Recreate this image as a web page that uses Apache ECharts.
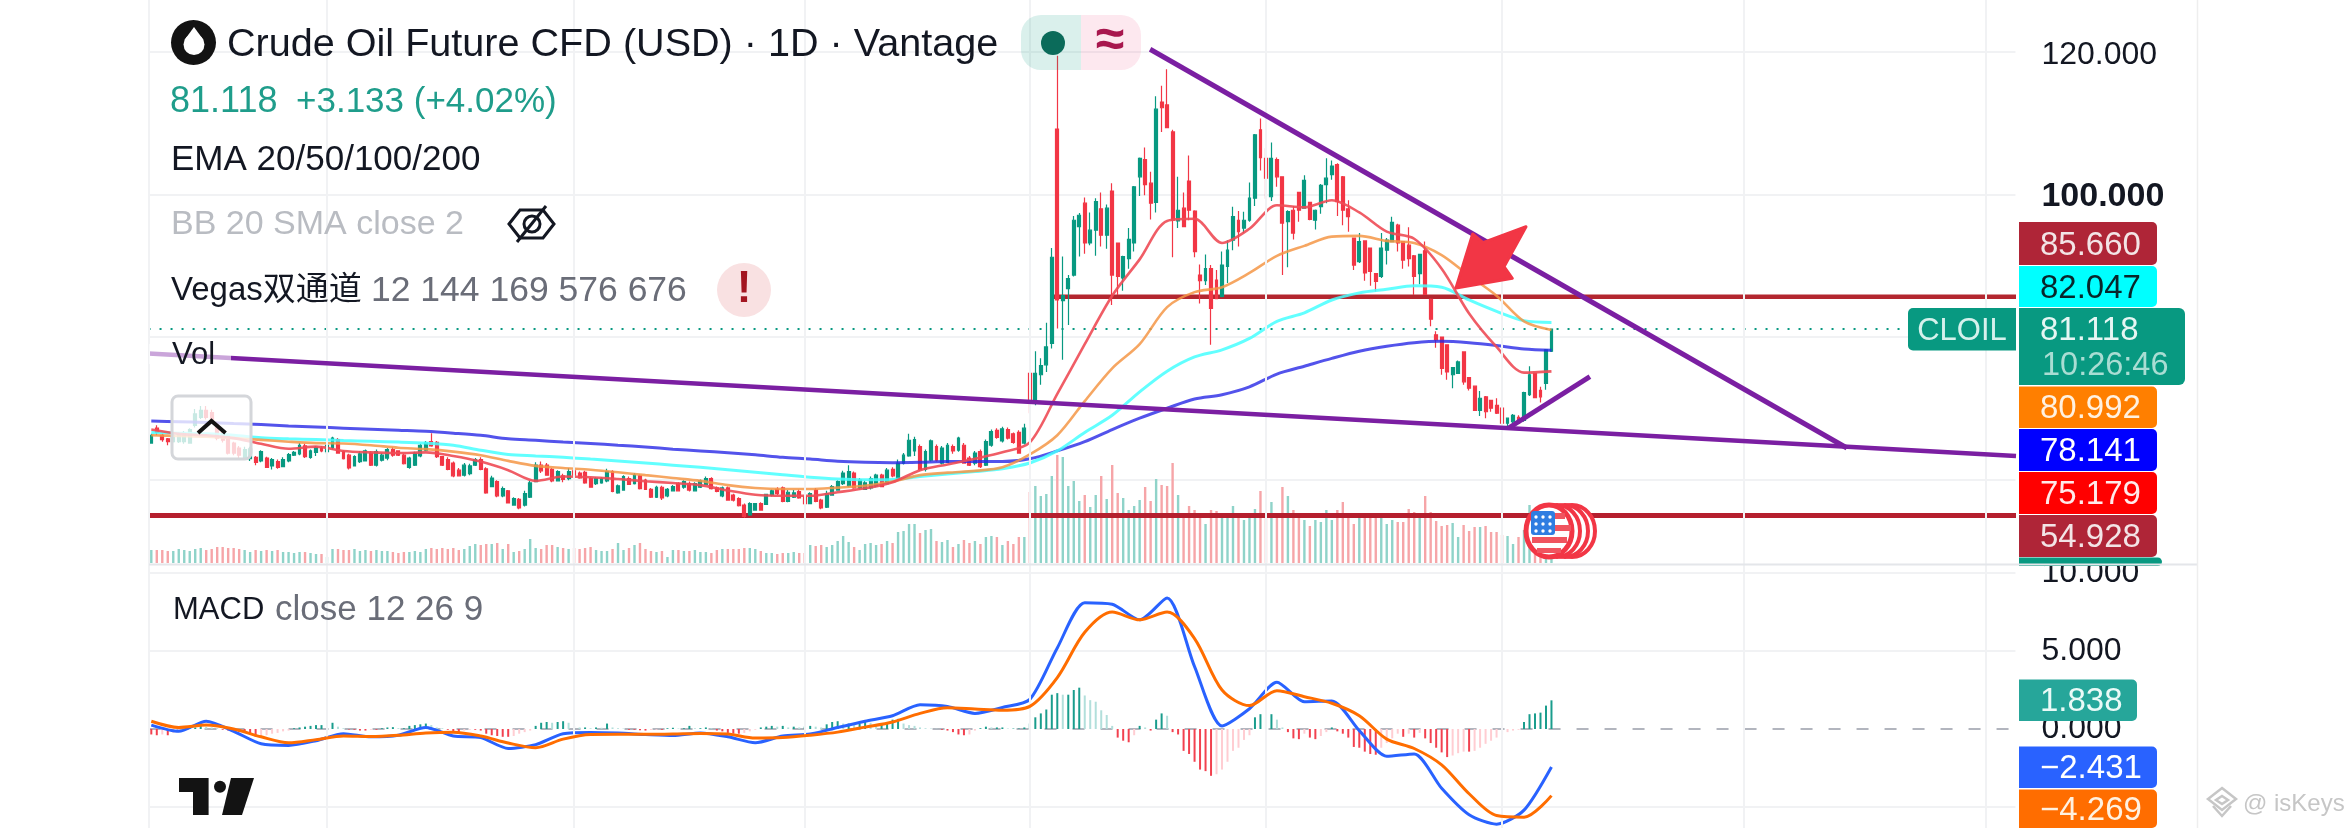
<!DOCTYPE html>
<html><head><meta charset="utf-8">
<style>html,body{margin:0;padding:0;background:#fff}#c{width:2346px;height:828px}</style>
<script src="https://cdn.jsdelivr.net/npm/echarts@6/dist/echarts.min.js"></script>
</head><body><div id="c"></div><script>
// [open, close, low, high] for every daily bar
const candles = [
[65.1,66.2,65.0,66.4],[67.2,66.6,66.2,67.6],[66.2,65.6,65.3,66.4],[65.7,65.3,64.8,65.8],[65.3,66.2,65.2,66.4],[65.3,66.4,65.1,66.6],[65.3,66.5,65.0,66.8],[65.1,67.0,65.0,67.2],[67.6,69.2,67.3,69.9],[68.7,69.7,68.5,70.3],
[69.7,68.7,68.4,70.3],[69.4,68.4,68.1,69.8],[67.9,65.8,65.5,68.1],[66.7,65.5,65.2,67.0],[66.1,63.7,63.5,66.3],[65.1,63.7,63.4,65.3],[64.4,63.4,63.0,64.7],[63.0,64.2,62.8,64.6],[62.9,64.3,62.6,64.6],[63.1,62.4,62.0,63.3],
[62.6,63.9,62.4,64.1],[63.0,61.7,61.6,63.2],[61.9,62.8,61.4,63.0],[62.5,61.7,61.5,62.8],[61.8,62.8,61.7,63.1],[62.6,63.5,62.4,63.7],[63.4,63.8,63.3,64.0],[63.6,64.8,63.4,65.1],[64.7,63.2,63.0,65.0],[63.1,64.0,62.9,64.2],
[63.8,64.5,63.3,64.7],[64.4,64.0,63.8,64.7],[63.9,64.8,63.6,65.0],[64.5,65.8,64.2,66.0],[65.6,63.7,63.6,65.8],[63.9,62.9,62.8,64.1],[63.4,61.6,61.4,63.6],[61.9,63.2,61.8,63.4],[62.5,63.6,62.3,64.0],[62.6,64.0,62.5,64.2],
[63.7,62.0,61.9,64.0],[62.0,63.9,61.8,64.2],[62.7,63.4,62.5,63.7],[63.0,64.2,62.7,64.4],[64.2,63.4,63.2,64.5],[64.0,63.4,63.3,64.1],[63.4,62.2,62.1,63.6],[61.7,63.0,61.5,63.2],[62.0,63.7,61.9,63.9],[63.3,64.8,63.1,65.0],
[64.1,65.1,64.0,65.4],[65.3,64.7,64.6,66.5],[65.2,63.2,63.0,65.4],[63.2,62.0,61.9,63.3],[62.8,61.4,61.3,63.1],[62.3,60.5,60.3,62.5],[61.3,60.5,60.4,61.6],[60.6,62.0,60.4,62.3],[60.8,61.9,60.6,62.2],[62.0,62.8,61.9,63.0],
[62.8,61.4,61.3,63.1],[61.5,58.1,58.0,61.7],[59.0,60.2,58.9,60.5],[59.7,57.7,57.5,59.9],[57.7,58.7,57.5,59.0],[58.4,56.7,56.6,58.5],[56.4,57.3,56.3,57.5],[57.2,56.0,55.8,57.4],[56.4,58.0,56.2,58.4],[57.5,59.5,57.4,59.8],
[59.7,62.0,59.6,62.4],[62.0,61.2,60.9,62.5],[62.0,60.6,60.5,62.3],[61.4,59.8,59.6,61.6],[59.8,61.1,59.7,61.3],
[60.5,60.0,59.6,60.8],[60.1,61.1,59.9,61.6],[61.2,60.6,60.3,61.5],[60.9,60.2,60.1,61.1],[61.0,59.5,59.4,61.2],[60.1,58.9,58.9,60.3],[59.4,60.1,59.2,60.3],[59.5,60.1,59.4,60.3],[59.8,61.1,59.6,61.5],[61.1,58.3,58.2,61.3],
[58.1,59.1,58.0,59.3],[58.5,60.4,58.4,60.6],[60.1,59.3,59.2,60.4],[59.4,60.6,59.3,60.9],[60.5,58.7,58.6,60.7],[59.9,58.6,58.5,60.1],[58.6,57.5,57.4,58.8],[57.5,58.9,57.4,59.1],[58.9,57.4,57.1,59.1],[57.7,58.6,57.5,58.8],
[58.4,59.0,58.3,59.2],[59.4,58.4,58.3,59.6],[58.9,59.7,58.7,59.9],[59.4,58.5,58.3,59.7],[58.4,59.4,58.3,59.6],[58.9,59.8,58.8,60.0],[59.3,60.1,59.2,60.4],[60.1,58.7,58.6,60.3],[58.8,58.3,58.2,59.0],[57.7,58.8,57.5,59.0],
[58.8,57.1,57.0,59.0],[57.8,57.1,56.9,58.0],[57.3,56.3,56.2,57.5],[56.4,54.8,54.6,56.6],[55.0,56.6,54.9,56.8],[55.7,56.6,55.6,56.7],[56.6,55.7,55.6,56.8],[56.5,57.9,56.4,58.0],[57.8,58.4,57.6,58.6],[58.6,58.0,57.8,58.9],
[58.8,56.9,56.8,59.0],[56.9,58.2,56.8,58.5],[57.5,58.1,57.4,58.5],[58.3,57.4,57.3,58.6],[57.6,56.6,56.4,57.8],[56.6,58.0,56.5,58.2],[58.5,56.9,56.8,58.8],[57.1,56.0,55.8,57.3],[56.1,58.0,56.0,58.4],[57.8,59.0,57.7,59.2],
[58.5,59.7,58.4,59.9],[59.4,60.9,59.2,61.2],[59.1,61.1,58.9,62.0],[60.9,58.8,58.7,61.1],[58.8,59.9,58.6,60.2],[58.6,59.5,58.5,59.8],[58.8,60.1,58.6,60.4],[59.1,60.6,58.9,60.8],[60.6,59.0,58.9,60.8],[59.4,61.3,59.3,61.6],
[61.4,60.5,60.3,61.7],[60.1,62.3,59.9,62.8],[62.3,63.4,62.1,63.7],[63.3,65.5,63.2,66.4],[64.0,65.6,63.3,66.0],[64.6,61.4,61.2,64.9],[61.4,63.9,61.1,64.2],[62.7,65.4,62.5,65.6],[64.6,62.7,62.5,64.9],[62.3,64.4,62.1,64.7],
[62.4,64.8,62.3,65.1],[64.6,64.0,63.6,64.9],[64.1,65.8,63.9,66.0],[64.8,62.3,62.2,65.1],[63.0,62.0,61.9,63.3],[62.3,63.7,62.0,64.0],[63.9,61.8,61.6,64.2],[62.0,65.3,61.9,65.6],[64.8,66.7,64.6,67.0],[66.9,65.9,65.7,67.2],
[65.4,67.1,65.2,67.4],[67.0,65.8,65.6,67.3],[66.4,65.2,65.0,66.6],[66.6,63.7,63.6,66.9],[65.1,67.2,64.9,67.8],
[74.9,70.9,69.3,75.0],[70.7,74.9,70.4,78.0],[74.7,76.0,73.3,77.0],[76.1,78.6,75.1,82.0],[79.1,91.2,78.4,92.5],[109.2,85.2,81.2,119.5],[85.1,85.8,76.8,91.3],[86.8,88.2,81.7,88.7],[88.7,96.4,88.5,97.0],[95.5,97.1,91.3,97.4],
[98.8,93.2,91.7,99.6],[93.2,95.0,92.9,97.5],[95.0,99.0,91.4,99.5],[98.0,94.3,92.7,100.3],[94.3,98.1,92.4,98.6],[100.5,88.7,84.5,101.6],[93.2,88.5,85.9,93.2],[88.3,91.3,86.5,91.4],[91.0,93.7,89.6,95.3],[93.2,101.1,92.0,101.2],
[102.5,105.1,99.8,105.2],[104.9,101.4,99.9,106.6],[101.6,98.8,96.5,103.2],[98.9,112.0,97.5,113.8],[113.0,112.2,108.8,115.3],[112.6,109.4,109.4,117.6],[108.8,96.4,91.2,109.1],[96.3,97.8,95.3,102.5],[98.1,95.5,95.4,100.3],[101.9,97.8,96.4,105.5],
[97.7,92.0,91.2,97.8],[88.7,87.9,84.7,90.2],[87.9,89.6,87.3,91.6],[89.6,84.0,78.9,90.1],[88.0,85.4,85.4,89.4],[85.7,90.1,85.6,92.0],[89.9,92.2,87.6,93.6],[93.6,96.9,92.2,98.3],[96.4,94.8,92.7,97.7],[95.3,96.4,94.6,97.6],
[96.4,99.5,96.2,101.7],[99.5,108.4,98.4,108.5],[109.1,105.2,103.4,110.7],[105.1,102.3,99.4,106.5],[99.7,105.1,99.1,107.3],[104.9,102.5,101.1,105.2],[102.5,96.0,88.7,102.5],[96.2,97.6,89.8,97.8],[97.8,94.6,93.7,98.4],
[100.3,97.8,96.2,100.3],[98.1,102.0,98.0,102.7],[98.9,96.5,96.4,99.0],[96.4,97.8,95.1,97.9],[98.3,101.3,97.3,101.5],[101.4,102.3,98.8,105.1],[102.8,104.0,102.1,104.8],[104.2,99.0,97.0,104.4],[102.5,97.8,95.7,102.6],[98.0,96.9,94.8,99.2],
[93.9,90.1,89.4,93.9],[90.6,93.4,90.4,94.6],[93.5,89.0,87.9,93.5],[92.5,89.2,87.2,92.5],[88.9,87.8,86.4,88.9],[88.5,92.5,88.3,94.6],[92.2,93.6,90.2,93.9],[93.4,96.1,93.4,96.9],[95.7,93.2,92.0,95.9],[93.4,90.8,89.6,93.5],
[92.9,91.0,89.9,95.4],[91.4,88.5,85.9,91.5],[88.9,91.6,87.4,91.6],[92.1,86.0,85.9,93.4],[85.3,82.5,81.5,85.4],[80.3,79.6,78.5,80.8],[80.0,75.6,74.7,80.0],[78.9,75.1,74.0,79.0],[74.7,75.7,72.8,75.8],[74.9,76.5,74.8,76.7],
[77.9,73.7,73.3,78.0],[74.3,72.8,72.5,74.4],[73.1,69.7,69.6,73.1],[69.7,71.4,68.9,72.4],[71.6,69.5,68.6,71.7],[71.1,70.0,69.5,71.2],[70.4,69.3,69.2,71.4],[70.0,67.9,67.8,70.1],[67.9,68.6,67.0,68.7],[68.1,69.0,67.6,69.2],
[68.7,67.9,67.8,69.0],[68.3,72.2,68.1,72.3],[71.9,74.7,71.7,75.9],[74.9,71.5,71.4,75.0],[72.5,71.6,70.8,73.0],[73.5,78.2,72.6,78.3],[78.0,81.118,77.9,81.2]
];
const volumes = [
13,13,13,12,12,14,13,12,14,15,13,14,16,16,15,15,14,13,11,13,12,13,12,13,11,11,10,11,11,10,9,9,6,
14,14,13,13,14,12,13,12,13,12,12,11,10,11,11,12,11,14,15,14,15,14,15,13,14,17,19,18,19,
19,20,14,19,11,12,14,24,15,14,18,18,16,15,14,15,14,15,16,13,12,12,14,20,13,15,18,20,14,12,11,12,6,13,13,12,12,13,11,11,
10,13,14,14,14,14,15,15,14,12,10,10,9,10,10,11,10,10,
18,17,18,16,18,22,27,21,16,13,19,20,18,19,22,20,31,
32,39,39,30,33,34,22,21,23,16,19,23,20,22,19,26,27,26,
18,22,19,26,26,71,77,67,69,87,108,106,77,82,62,68,56,68,87,64,98,70,65,53,57,63,76,62,84,78,77,100,68,47,57,53,50,39,53,52,50,48,57,48,43,48,54,72,48,61,50,76,67,53,48,43,37,43,41,53,43,53,61,48,39,45,48,45,45,48,39,43,41,41,54,51,49,67,51,42,37,38,40,26,38,32,36,36,37,31,31,28,27,19,26,33,58,
30,25,25,20];
const emaBars = [0,5,10,15,20,25,30,35,40,45,50,55,60,65,70,75,80,85,90,95,100,105,110,115,120,125,130,135,140,145,150,155,160,165,170,175,180,185,190,195,200,205,210,215,220,225,230,235,240,245,250,255];
const ema20 = [67.0,66.4,66.2,65.8,65.0,64.3,64.6,64.0,63.8,63.7,63.8,63.3,62.5,61.3,59.8,60.4,60.3,60.05,59.75,59.5,59.2,58.45,57.85,57.7,57.7,58.2,58.75,59.6,61.3,62.1,62.9,63.8,65.2,72,79,85.8,90.9,96.3,96.6,93.2,95.2,98.5,98.2,99.2,97.5,94.8,93.8,89.6,83.3,78.6,75,75.179];
const ema50 = [66.2,66.1,66.0,65.8,65.55,65.3,65.1,65.05,64.8,64.45,64.25,63.9,63.4,62.6,61.9,61.6,61.35,61.0,60.6,60.2,59.8,59.2,58.8,58.65,58.65,58.85,59.1,59.7,60.6,60.95,61.2,61.7,63.5,66.2,71.0,75.6,79.0,84.2,86.3,87.0,89.0,91.4,92.8,94.1,94.2,93.5,93.2,91.5,88.6,85.8,82.2,80.992];
const ema100 = [66.6,66.5,66.4,66.2,65.85,65.7,65.6,65.45,65.35,65.25,65.1,64.8,64.1,63.5,63.3,63.1,62.85,62.6,62.3,62.0,61.7,61.35,61.0,60.65,60.3,60.05,59.95,60.0,60.4,60.75,61.1,61.5,62.3,64.0,66.6,69.0,72.3,75.2,77.2,78.2,79.8,82.2,83.4,85.2,86.2,86.7,87.2,87.0,85.2,83.6,82.3,82.047];
const ema200 = [68.2,68.1,68.0,67.85,67.7,67.5,67.35,67.2,67.05,66.9,66.75,66.5,66.2,65.7,65.5,65.25,65.05,64.8,64.55,64.25,64.0,63.75,63.45,63.1,62.85,62.55,62.4,62.35,62.4,62.5,62.5,62.5,62.9,64.0,65.3,67.0,68.6,70.0,71.3,71.9,73.0,74.8,75.9,77.0,78.0,78.7,79.2,79.4,79.2,78.8,78.3,78.141];
const macdLine = [.25,-.15,.5,-.15,-.95,-1.05,-.75,-.3,-.5,-.4,.1,-.45,-.55,-1.25,-1.0,-.3,-.22,-.26,-.35,-.42,-.25,-.5,-.88,-.45,-.32,.1,.5,.85,1.55,1.45,1.0,1.38,1.9,5.2,8.1,8.0,7.0,8.4,4.0,.2,1.3,3.0,1.75,1.8,-.1,-1.75,-1.6,-3.8,-5.5,-6.1,-5.2,-2.431];
const signalLine = [.5,.1,.25,0,-.5,-.88,-.68,-.45,-.48,-.4,-.25,-.2,-.45,-.9,-1.2,-.65,-.35,-.34,-.34,-.32,-.28,-.32,-.58,-.55,-.4,-.2,.12,.45,1.0,1.36,1.28,1.2,1.45,3.3,6.2,7.5,7.0,7.5,5.8,2.5,1.5,2.46,2.07,1.65,.85,-.65,-1.25,-2.3,-4.15,-5.55,-5.65,-4.269];
const macdHist = [
-.35,-.4,-.35,-.4,-.25,-.2,-.1,.05,.1,.2,.15,.1,.05,-.05,-.1,-.15,-.2,-.25,-.35,-.5,-.45,-.4,-.3,-.25,-.15,-.1,.05,.1,.15,.2,.25,.25,.35,.4,
.15,.05,-.03,-.05,-.1,-.1,-.05,-.05,.05,.1,.12,.05,.05,.2,.25,.3,.35,.25,.1,.05,-.05,-.2,-.2,-.1,-.05,-.05,-.1,
-.3,-.4,-.45,-.5,-.5,-.45,-.3,-.2,-.1,.2,.4,.45,.4,.45,.5,.4,.2,.1,.1,.05,.1,.08,.35,.1,.05,
.03,-.05,-.05,-.08,-.1,-.06,-.05,-.05,.05,.08,.03,.05,.2,.05,.05,.1,.05,-.1,-.15,-.25,-.3,-.3,-.25,-.15,-.05,
.1,.15,.2,.15,.2,.1,.15,.1,.15,.2,.15,.1,.3,.45,.5,.35,.35,.3,.35,.45,.4,.3,.35,.45,.6,.65,.35,.25,.2,.1,
.05,.03,.02,-.05,-.1,-.2,-.35,-.4,-.35,-.1,.05,.15,.1,.1,
.1,.03,.03,.03,.1,.35,.75,1.0,1.25,2.2,2.3,2.2,2.2,2.5,2.65,2.15,1.85,1.75,1.2,.9,.2,-.55,-.75,-.85,-.4,.2,.1,-.1,.6,1.0,.85,-.2,-.35,-1.4,-1.6,-2.1,-2.6,-2.7,-3.0,-2.9,-2.6,-2.1,-1.4,-1.2,-.7,-.4,.75,.95,.8,.95,.6,.1,-.2,-.6,-.65,-.3,-.55,-.65,-.45,-.2,.1,-.15,-.3,-.55,-1.15,-1.2,-1.45,-1.6,-1.65,-1.2,-.9,-.6,-.3,-.5,-.3,-.55,-.25,-.6,-.9,-1.2,-1.5,-1.8,-1.7,-1.55,-1.45,-1.45,-1.4,-1.2,-.95,-.75,-.55,-.4,-.2,-.1,-.05,.45,.95,1.0,1.05,1.5,1.838];
const priceTicks = [120,100];
const priceGrid = [120,100,80,60];
const macdTicks = [10,5,0];
const macdGrid = [10,5,-5];
const monthBars = [32.5,77.5,119.5,160.5,203.5,246.5,290.5,334.5];
const resistance = 85.66, support = 54.928, lastPrice = 81.118;
// drawn trend lines: [bar position, price]
const longSupport = [[0,77.67],[340.1,63.29]];
const fallingTop = [[182.4,120.41],[309.3,64.41]];
const reboundLine = [[247.7,67.22],[262.5,74.42]];

const W=2346,H=828,L=148.55,R=2015.45,SLOTS=340;
const cats = Array.from({length:SLOTS},(_,i)=>String(i));
const UP='#089981',DN='#F23645';
const volData = volumes.map((v,i)=>({value:v,itemStyle:{color:candles[i][1]>=candles[i][0]?'#8fd3c9':'#f6a5a8'}}));
const histData = macdHist.map((v,i)=>{const p=i?macdHist[i-1]:0;
  const c=v>=0?(v>=p?'#1a9d8d':'#b2dfdb'):(v<=p?'#f2414f':'#ffcdd2');return {value:v,itemStyle:{color:c}};});
const pts=(arr)=>emaBars.map((b,k)=>[b+.5,arr[k]]);
const lineSeries=(name,xi,yi,data,color,width,extra)=>Object.assign({name,type:'line',xAxisIndex:xi,yAxisIndex:yi,data,symbol:'none',silent:true,clip:false,animation:false,lineStyle:{color,width}},extra||{});
const gridLine={color:'#f1f2f4',width:2};
const FF='"Liberation Sans",Arial,sans-serif';

const option={animation:false,backgroundColor:'#fff',
 grid:[
  {left:L,top:0,width:R-L,height:565},
  {left:L,top:400,width:R-L,height:163},
  {left:L,top:566,width:R-L,height:262},
  {left:L,top:0,width:R-L,height:828}
 ],
 xAxis:[
  {type:'category',gridIndex:0,data:cats,show:false,boundaryGap:true},
  {type:'value',gridIndex:0,min:0,max:SLOTS,show:false},
  {type:'category',gridIndex:1,data:cats,show:false,boundaryGap:true},
  {type:'category',gridIndex:2,data:cats,show:false,boundaryGap:true},
  {type:'value',gridIndex:2,min:0,max:SLOTS,show:false},
  {type:'value',gridIndex:3,min:0,max:SLOTS,show:false}
 ],
 yAxis:[
  {type:'value',gridIndex:0,position:'right',min:47.98,max:127.33,scale:true,axisLine:{show:false},axisTick:{show:false,customValues:priceGrid},
   splitLine:{show:true,lineStyle:gridLine,customValues:priceGrid},
   axisLabel:{customValues:priceTicks,color:'#131722',fontFamily:FF,fontSize:32,margin:26,align:'left',padding:[5,0,0,0],
     formatter:v=>v===100?'{b|100.000}':v.toFixed(3),rich:{b:{fontWeight:'bold',fontSize:34,fontFamily:FF,color:'#131722'}}}},
  {type:'value',gridIndex:1,min:0,max:163,show:false},
  {type:'value',gridIndex:2,position:'right',min:-6.346,max:10.45,scale:true,axisLine:{show:false},axisTick:{show:false,customValues:macdGrid},
   splitLine:{show:true,lineStyle:gridLine,customValues:macdGrid},
   axisLabel:{customValues:macdTicks,color:'#131722',fontFamily:FF,fontSize:32,margin:26,align:'left',padding:[3,0,0,0],formatter:v=>v.toFixed(3)}},
  {type:'value',gridIndex:3,min:0,max:1,show:false}
 ],
 series:[
  {type:'line',xAxisIndex:5,yAxisIndex:3,data:[],silent:true,z:0,markLine:{silent:true,symbol:'none',label:{show:false},animation:false,lineStyle:{color:'#f1f2f4',width:2,type:'solid'},data:monthBars.map(x=>({xAxis:x}))}},
  {name:'Vol',type:'bar',xAxisIndex:2,yAxisIndex:1,data:volData,barWidth:2.4,silent:true,z:1,animation:false},
  lineSeries('resistance',1,0,[[164.2,resistance],[340.1,resistance]],'#b3262f',4.5,{z:2}),
  lineSeries('support',1,0,[[0,support],[340.1,support]],'#b51f2e',5,{z:2}),
  lineSeries('last',1,0,[[0,lastPrice],[320.4,lastPrice]],UP,2,{z:2,lineStyle:{color:UP,width:2,type:[2,9]}}),
  {name:'CLOIL',type:'candlestick',xAxisIndex:0,yAxisIndex:0,data:candles,barWidth:3.4,silent:true,z:3,animation:false,
   itemStyle:{color:UP,color0:DN,borderColor:UP,borderColor0:DN,borderWidth:1.2}},
  lineSeries('EMA200',1,0,pts(ema200),'rgba(40,40,230,.8)',3,{smooth:.3,z:4}),
  lineSeries('EMA100',1,0,pts(ema100),'rgba(70,255,255,.85)',3,{smooth:.3,z:4}),
  lineSeries('EMA50',1,0,pts(ema50),'rgba(245,150,70,.85)',2.6,{smooth:.3,z:4}),
  lineSeries('EMA20',1,0,pts(ema20),'rgba(238,75,85,.9)',2.6,{smooth:.3,z:4}),
  lineSeries('longSupport',1,0,longSupport,'#7B1FA2',4.5,{z:5}),
  lineSeries('fallingTop',1,0,fallingTop,'#7B1FA2',5,{z:5}),
  lineSeries('reboundLine',1,0,reboundLine,'#7B1FA2',5,{z:5}),
  lineSeries('zero',4,2,[[0,0],[340.1,0]],'#b2b5be',2,{z:1,lineStyle:{color:'#b2b5be',width:2,type:[12,16]}}),
  {name:'Hist',type:'bar',xAxisIndex:3,yAxisIndex:2,data:histData,barWidth:2,silent:true,z:2,animation:false},
  lineSeries('MACD',4,2,pts(macdLine),'#2962FF',3,{smooth:.25,z:4}),
  lineSeries('Signal',4,2,pts(signalLine),'#FF6D00',3,{smooth:.3,z:5})
 ]
};

// overlay decoration and text
const T=(text,x,y,fill,size,extra)=>Object.assign({type:'text',z:60,x,y,style:Object.assign({text,fill,font:`${size}px ${FF}`,align:'left',verticalAlign:'middle'},extra||{})});
const Rr=(x,y,w,h,fill,r,z,extra)=>({type:'rect',z:z||50,shape:{x,y,width:w,height:h,r:r||0},style:Object.assign({fill},extra||{})});
const Pg=(points,style,z)=>({type:'polygon',z:z||60,shape:{points},style});
const Pl=(points,style,z)=>({type:'polyline',z:z||60,shape:{points},style});
const tags=[
 ['85.660','#af2537','#f3e4e6',222,265,2157],
 ['82.047','#00ffff','#08262b',266,307,2157],
 ['80.992','#ff7f00','#fff1e0',386.5,428,2157],
 ['78.141','#0000ff','#ffffff',429,471,2157],
 ['75.179','#ff0000','#ffeaea',472,514,2157],
 ['54.928','#af2537','#f3e4e6',515,557,2157],
 ['','#089981','#fff',557.5,566,2162],
 ['1.838','#26a69a','#eafaf7',679.5,721,2137],
 ['\u22122.431','#2962ff','#ffffff',746.5,788,2157],
 ['\u22124.269','#ff6d00','#fff1e0',789.5,828,2157]
];
const g=[];
g.push(Rr(2017,545,180,20,'#fff',0,30));
tags.forEach(t=>{g.push(Rr(2019,t[3],t[5]-2019,t[4]-t[3],t[1],[0,5,5,0],40));
  if(t[0])g.push(T(t[0],2040,(t[3]+t[4])/2+2,t[2],33,{}));});
g.push(Rr(2019,308,166,77,'#089981',[0,6,6,0],41));
g.push(T('81.118',2040,331,'#e6f6f3',33));
g.push(T('10:26:46',2042,366,'#a9ddd3',32.5));
g.push(Rr(1908,308,108,42.5,'#089981',[5,0,0,5],41));
g.push(T('CLOIL',1962,331,'#d5f1ec',31,{align:'center'}));
const line=(x1,y1,x2,y2,stroke,w,z)=>({type:'line',z:z||35,shape:{x1,y1,x2,y2},style:{stroke,lineWidth:w}});
g.push(line(149,0,149,828,'#f1f2f4',2,0));
g.push(line(149,564.5,2197,564.5,'#e4e6ea',2,45));
g.push(line(2197.5,0,2197.5,828,'#eeeeee',1.5,45));
// header
g.push({type:'circle',z:60,shape:{cx:193.5,cy:42.5,r:22.5},style:{fill:'#131313'}});
g.push({type:'circle',z:61,shape:{cx:194,cy:44.5,r:10.5},style:{fill:'#fff'}});
g.push(Pg([[194,27],[184.5,40],[203.5,40]],{fill:'#fff'},61));
g.push(T('Crude Oil Future CFD (USD) \u00b7 1D \u00b7 Vantage',227,45,'#131722',39.6));
g.push(Rr(1021,15,60,55,'rgba(8,153,129,.15)',[20,0,0,20],60));
g.push(Rr(1081,15,60,55,'rgba(233,30,99,.1)',[0,20,20,0],60));
g.push({type:'circle',z:61,shape:{cx:1053,cy:43,r:12},style:{fill:'#0b6b5a'}});
g.push(T('\u2248',1110,42,'#a8174e',52,{align:'center',font:`bold 52px ${FF}`}));
g.push(T('81.118',170,102,'#1f9d8b',36));
g.push(T('+3.133 (+4.02%)',296,102,'#1f9d8b',35));
g.push(T('EMA 20/50/100/200',171,160,'#131722',35));
g.push(T('BB 20 SMA close 2',171,225,'#b9bcc2',34));
g.push(Pg([[509,224],[520,210],[543,210],[554,224],[543,238],[520,238]],{fill:'none',stroke:'#131722',lineWidth:3},61));
g.push({type:'circle',z:61,shape:{cx:532,cy:224,r:8},style:{fill:'none',stroke:'#131722',lineWidth:3}});
g.push(line(517,242,546,206,'#131722',3,62));
g.push(T('Vegas\u53cc\u901a\u9053',171,291,'#131722',33,{font:`33px ${FF},"Noto Sans CJK SC"`}));
g.push(T('12 144 169 576 676',371,291,'#6a6d78',35.5));
g.push({type:'circle',z:60,shape:{cx:744,cy:290,r:27},style:{fill:'#f9e1e2'}});
g.push(T('!',744,290,'#a31621',44,{align:'center',font:`bold 44px ${FF}`}));
g.push(Rr(149,344,82,20,'rgba(255,255,255,.6)',0,55));
g.push(T('Vol',172,355,'#131722',31));
g.push(Rr(172,396,79,63,'rgba(255,255,255,.78)',6,55,{stroke:'#d4d6da',lineWidth:3}));
g.push(Pl([[198,433],[211.5,421],[225.5,433]],{fill:'none',stroke:'#131313',lineWidth:4}));
g.push(T('MACD',173,610,'#131722',31));
g.push(T('close 12 26 9',275,610,'#6a6d78',35));
// red arrow
g.push(Pg([[1456,288],[1472.7,234],[1483,242.7],[1526,226.7],[1504,266.7],[1512.3,278.3]],{fill:'#f23645',stroke:'#f23645',lineWidth:3,lineJoin:'round'},56));
// flag coins
[23,16,8].forEach(d=>g.push({type:'ellipse',z:57,shape:{cx:1549+d,cy:531,rx:23,ry:26},style:{fill:'#fff',stroke:'#f23645',lineWidth:4}}));
g.push({type:'ellipse',z:58,shape:{cx:1549,cy:531,rx:23,ry:26},style:{fill:'#fff',stroke:'#f23645',lineWidth:5}});
[[1553,513,12,6],[1553,525,18,6],[1532,537,35,6],[1537,548,24,5]].forEach(r=>g.push(Rr(r[0],r[1],r[2],r[3],'#f0545f',0,58)));
g.push(Rr(1531,511,24,24,'#2f7de1',3,59));
[[1536,517],[1543,517],[1550,517],[1536,524],[1543,524],[1550,524],[1536,531],[1543,531],[1550,531]].forEach(p=>g.push({type:'circle',z:60,shape:{cx:p[0],cy:p[1],r:1.7},style:{fill:'#fff'}}));
// TradingView logo
g.push(Pg([[179,778],[208.6,778],[208.6,815],[193,815],[193,792],[179,792]],{fill:'#131313'}));
g.push(Pg([[231,778],[254,778],[242,815],[222,815]],{fill:'#131313'}));
g.push({type:'circle',z:60,shape:{cx:220,cy:786.7,r:6},style:{fill:'#131313'}});
// watermark
const wm={fill:'none',stroke:'#c6c6c6',lineWidth:2.5};
g.push(Pg([[2222,788],[2236,799],[2222,810],[2208,799]],wm));
g.push(Pg([[2222,796],[2228,800],[2222,804],[2216,800]],wm));
g.push(Pl([[2213,806],[2222,816],[2231,806]],wm));
g.push(T('@ isKeys',2243,804,'#c6c6c6',24));
option.graphic={elements:g};
const chart=echarts.init(document.getElementById('c'),null,{renderer:'canvas',width:W,height:H});
chart.setOption(option);
</script></body></html>
